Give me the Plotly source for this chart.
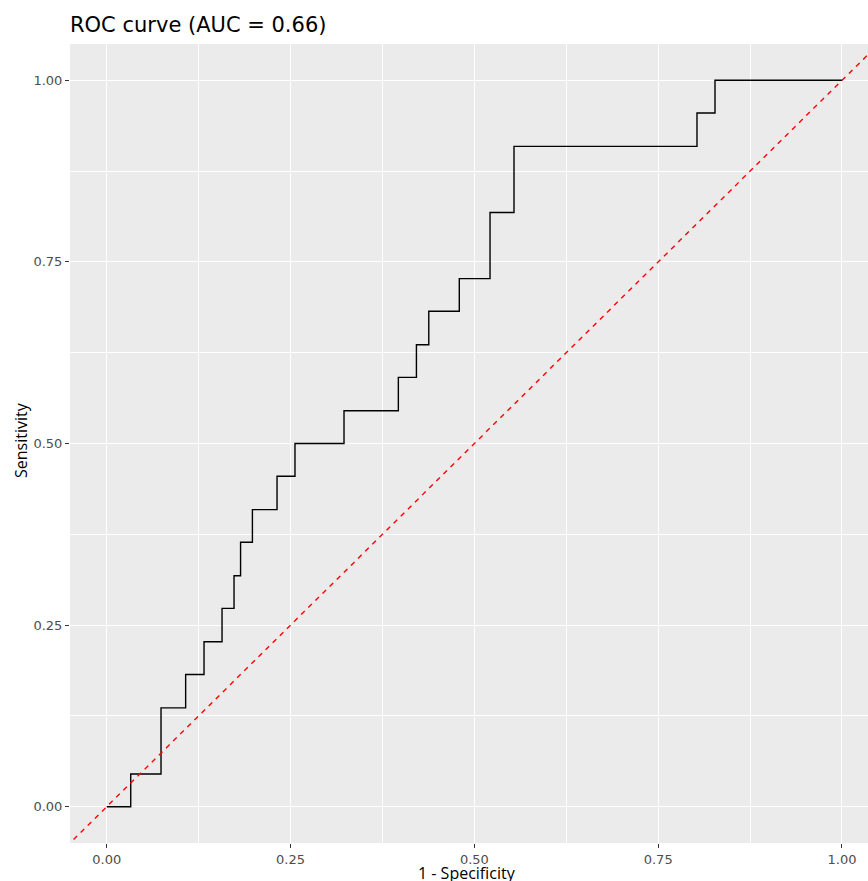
import plotly.graph_objects as go

# ROC curve points (1 - specificity, sensitivity)
fpr = [0.0, 0.0326, 0.0738, 0.1073, 0.1323, 0.1568, 0.1731, 0.1820, 0.1981,
       0.2316, 0.2560, 0.3227, 0.3966, 0.4212, 0.4380, 0.4795, 0.5213, 0.5539,
       0.8028, 0.8273, 1.0]
tpr = [0.0, 0.045, 0.136, 0.182, 0.227, 0.273, 0.318, 0.364, 0.409,
       0.455, 0.500, 0.545, 0.591, 0.636, 0.682, 0.727, 0.818, 0.909,
       0.955, 1.000, 1.000]

diag_x = [-0.2, 1.2]
diag_y = [-0.2, 1.2]

tick_vals = [0.0, 0.25, 0.5, 0.75, 1.0]
tick_text = ["0.00", "0.25", "0.50", "0.75", "1.00"]

title_text = "ROC curve (AUC = 0.66)"
x_title = "1 - Specificity"
y_title = "Sensitivity"

W, H = 868, 881
ML, MR, MT, MB = 70, 0, 44, 38

fig = go.Figure()
fig.add_trace(go.Scatter(x=fpr, y=tpr, mode="lines", line=dict(color="black", width=1.4, shape="hv"),
                         showlegend=False, hoverinfo="skip"))
fig.add_trace(go.Scatter(x=diag_x, y=diag_y, mode="lines",
                         line=dict(color="#FF0000", width=1.4, dash="5px,5px"),
                         showlegend=False, hoverinfo="skip"))

axis_common = dict(
    tickvals=tick_vals, ticktext=tick_text,
    showgrid=True, gridcolor="white", gridwidth=1.4,
    zeroline=False, showline=False,
    ticks="outside", ticklen=4, tickwidth=1, tickcolor="#333333",
    tickfont=dict(family="DejaVu Sans", size=13, color="#4D4D4D"),
    minor=dict(tick0=0.125, dtick=0.25, showgrid=True, gridcolor="white", gridwidth=0.7, ticks=""),
)

fig.update_layout(
    width=W, height=H,
    margin=dict(l=ML, r=MR, t=MT, b=MB),
    paper_bgcolor="white", plot_bgcolor="#EBEBEB",
    xaxis=dict(range=[-0.05, 1.0354], **axis_common),
    yaxis=dict(range=[-0.05, 1.05], **axis_common),
    title=dict(text=title_text, x=70 / W, xanchor="left", xref="container",
               y=1 - 25 / H, yanchor="middle", yref="container",
               font=dict(family="DejaVu Sans", size=21, color="black")),
    annotations=[
        dict(text=x_title, xref="paper", yref="paper", x=(467 - ML) / (W - ML - MR),
             y=-(873 - (H - MB)) / (H - MT - MB), xanchor="center", yanchor="middle",
             showarrow=False, font=dict(family="Open Sans", size=16, color="black")),
        dict(text=y_title, xref="paper", yref="paper", x=(21 - ML) / (W - ML - MR),
             y=((H - MB) - 440) / (H - MT - MB), xanchor="center", yanchor="middle",
             textangle=-90, showarrow=False, font=dict(family="Open Sans", size=16, color="black")),
    ],
)

fig.write_html("out.html")
